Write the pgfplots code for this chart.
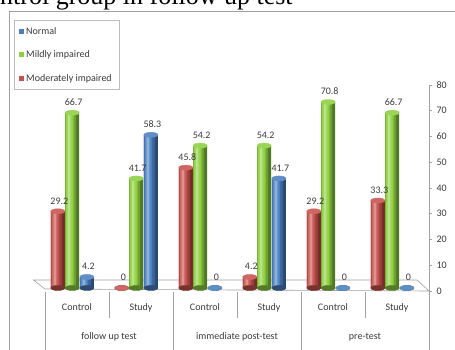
\documentclass[border=0pt]{standalone}
\usepackage{fontspec}
\setmainfont{Carlito}
\newfontfamily\seriffont{Liberation Serif}
\usepackage{pgfplots}
\usepackage{pgfplotstable}
\pgfplotsset{compat=1.18}
\definecolor{cred}{HTML}{C8514D}
\definecolor{cgreen}{HTML}{8CCF3F}
\definecolor{cblue}{HTML}{4A7FC0}
\definecolor{lblgray}{HTML}{3A3A3A}
\definecolor{framegray}{HTML}{A0A0A0}
\pgfplotstableread{
pos mod mild norm
0 29.2 66.7 4.2
1 0 41.7 58.3
2 45.8 54.2 0
3 4.2 54.2 41.7
4 29.2 70.8 0
5 33.3 66.7 0
}\datatable
% one cylinder series: #1 colour, #2 x offset, #3 column
\newcommand{\cyl}[3]{%
 \addplot[forget plot, only marks, mark=*, mark size=7pt, color=#1!60!black, mark options={yscale=0.36}] table[x expr=\thisrow{pos}#2, y expr=0] {\datatable};
 \addplot[forget plot, ybar, bar width=14pt, bar shift=0pt, draw=none, fill=#1!58!black] table[x expr=\thisrow{pos}#2, y=#3] {\datatable};
 \addplot[forget plot, ybar, bar width=11pt, bar shift=-1.5pt, draw=none, fill=#1!78!black] table[x expr=\thisrow{pos}#2, y=#3] {\datatable};
 \addplot[forget plot, ybar, bar width=8pt, bar shift=-2.5pt, draw=none, fill=#1] table[x expr=\thisrow{pos}#2, y=#3] {\datatable};
 \addplot[forget plot, ybar, bar width=5pt, bar shift=-3pt, draw=none, fill=#1!82!white] table[x expr=\thisrow{pos}#2, y=#3] {\datatable};
 \addplot[forget plot, ybar, bar width=2pt, bar shift=-3pt, draw=none, fill=#1!62!white] table[x expr=\thisrow{pos}#2, y=#3] {\datatable};
 \addplot[forget plot, only marks, mark=*, mark size=7pt, color=#1!88!white, mark options={yscale=0.36},
  point meta=y, nodes near coords, every node near coord/.append style={font=\fontsize{10}{12}\selectfont, text=lblgray, yshift=3.5pt, xshift=1.5pt}] table[x expr=\thisrow{pos}#2, y=#3] {\datatable};
}
\begin{document}
\begin{tikzpicture}[x=1pt,y=1pt]
\useasboundingbox (0,0) rectangle (455,349);
\node[anchor=base west, inner sep=0, font=\seriffont\fontsize{26}{30}\selectfont] at (0,344.5) {ntrol group in follow up test};
\draw[framegray, line width=0.8pt] (9,-5) -- (9,338) -- (460,338);
% floor
\draw[framegray, fill=white, line width=0.6pt] (45,60) -- (429,58) -- (417,69) -- (33.5,69) -- cycle;
% separators
\foreach \xx in {109,237,365} \draw[framegray, line width=0.6pt] (\xx,57) -- (\xx,31);
\foreach \xx in {45,173,301} \draw[framegray, line width=0.6pt] (\xx,57) -- (\xx,-2);
\draw[framegray, line width=0.6pt] (429,58) -- (429,-2);
\node[font=\fontsize{10}{12}\selectfont, text=lblgray] at (109,12) {follow up test};
\node[font=\fontsize{10}{12}\selectfont, text=lblgray] at (237,12) {immediate post-test};
\node[font=\fontsize{10}{12}\selectfont, text=lblgray] at (365,12) {pre-test};
% value axis (ticks)
\begin{axis}[
  at={(45pt,58pt)}, anchor=south west,
  scale only axis, width=384pt, height=206pt,
  xmin=-0.5, xmax=5.5, ymin=0, ymax=80,
  axis x line=none,
  axis y line*=right, y axis line style={framegray, line width=0.6pt},
  ytick={0,10,...,80},
  ytick style={framegray, line width=0.6pt},
  tick align=outside, major tick length=3pt,
  yticklabel style={font=\fontsize{10}{12}\selectfont, text=lblgray, xshift=1pt},
  /pgf/number format/assume math mode=true,
]
\end{axis}
% bars
\begin{axis}[
  at={(45pt,61pt)}, anchor=south west,
  scale only axis, width=384pt, height=210.2pt,
  xmin=-0.5, xmax=5.5, ymin=0, ymax=80,
  clip=false,
  axis y line=none,
  axis x line*=bottom, x axis line style={draw=none},
  xtick={0,...,5},
  xticklabels={Control,Study,Control,Study,Control,Study},
  xtick style={draw=none},
  xticklabel style={font=\fontsize{10}{12}\selectfont, text=lblgray, yshift=-12pt},
  /pgf/number format/assume math mode=true,
  legend image code/.code={\fill[#1] (0pt,-2.5pt) rectangle (5pt,2.5pt);},
  legend style={at={(-0.0807,1.275)}, anchor=north west, draw=framegray!70, fill=white,
    font=\fontsize{10}{12}\selectfont, text=lblgray, cells={anchor=west}, row sep=11pt,
    inner xsep=5pt, inner ysep=5pt},
]
\addlegendimage{fill=cblue, draw=none}
\addlegendentry{Normal}
\addlegendimage{fill=cgreen, draw=none}
\addlegendentry{Mildly impaired}
\addlegendimage{fill=cred, draw=none}
\addlegendentry{Moderately impaired}

\cyl{cred}{-0.30}{mod}
\cyl{cgreen}{-0.075}{mild}
\cyl{cblue}{+0.155}{norm}
\end{axis}
\end{tikzpicture}
\end{document}
